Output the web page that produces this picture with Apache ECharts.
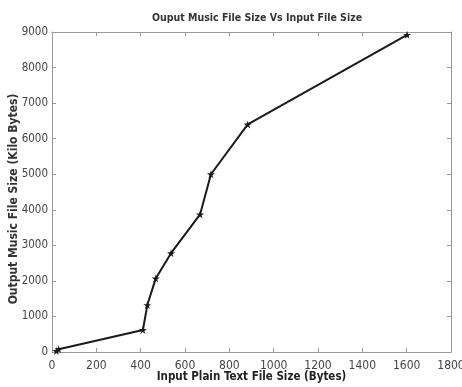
<!DOCTYPE html>
<html><head><meta charset="utf-8">
<script src="https://cdn.jsdelivr.net/npm/echarts@6/dist/echarts.min.js"></script>
<style>html,body{margin:0;padding:0;background:#fff}#c{width:462px;height:387px}</style>
</head><body><div id="c"></div>
<script>
const inputSize = [20, 30, 410, 430, 468, 537, 668, 717, 883, 1602];
const outputSize = [30, 80, 620, 1320, 2070, 2780, 3870, 5000, 6400, 8920];
const xTicks = [0, 200, 400, 600, 800, 1000, 1200, 1400, 1600, 1800];
const yTicks = [0, 1000, 2000, 3000, 4000, 5000, 6000, 7000, 8000, 9000];

const F = '"DejaVu Sans Condensed", "Liberation Sans Narrow", "Liberation Sans", sans-serif';
const star = 'path://M50,0 L61,35 L98,35 L68,57 L79,91 L50,70 L21,91 L32,57 L2,35 L39,35 Z';
const chart = echarts.init(document.getElementById('c'));
const axisLine = {show: true, onZero: false, lineStyle: {color: '#999', width: 1}};
const tick = {show: true, inside: true, length: 4, lineStyle: {color: '#999'}};
chart.setOption({
  animation: false,
  title: {text: 'Ouput Music File Size Vs Input File Size', left: 252, top: 8, textAlign: 'center',
    textStyle: {fontFamily: F, fontSize: 10.5, fontWeight: 'bold', color: '#333'}},
  grid: {left: 52, right: 11, top: 32, bottom: 35, containLabel: false, outerBoundsMode: 'none'},
  xAxis: [{type: 'value', min: 0, max: 1800, interval: 200, position: 'bottom',
    axisLine, axisTick: tick, splitLine: {show: false},
    axisLabel: {fontFamily: F, fontSize: 12, color: '#444', margin: 8,
      formatter: v => xTicks.includes(v) ? String(v) : ''},
    name: 'Input Plain Text File Size (Bytes)', nameLocation: 'middle', nameGap: 19, nameMoveOverlap: false,
    nameTextStyle: {fontFamily: F, fontSize: 11.5, fontWeight: 'bold', color: '#222'}},
   {type: 'value', min: 0, max: 1800, interval: 200, position: 'top',
    axisLine, axisTick: tick, axisLabel: {show: false}, splitLine: {show: false}}],
  yAxis: [{type: 'value', min: 0, max: 9000, interval: 1000, position: 'left',
    axisLine, axisTick: tick, splitLine: {show: false},
    axisLabel: {fontFamily: F, fontSize: 11.5, color: '#444', margin: 4,
      formatter: v => yTicks.includes(v) ? String(v) : ''},
    name: 'Output Music File Size (Kilo Bytes)', nameLocation: 'middle', nameGap: 32, nameMoveOverlap: false,
    nameTextStyle: {fontFamily: F, fontSize: 12, fontWeight: 'bold', color: '#333', padding: [0, 0, 0, -14]}},
   {type: 'value', min: 0, max: 9000, interval: 1000, position: 'right',
    axisLine, axisTick: tick, axisLabel: {show: false}, splitLine: {show: false}}],
  series: [{type: 'line', data: inputSize.map((x, i) => [x, outputSize[i]]),
    lineStyle: {color: '#1a1a1a', width: 2}, itemStyle: {color: '#1a1a1a'},
    symbol: star, symbolSize: 8, showSymbol: true}]
});
</script></body></html>
